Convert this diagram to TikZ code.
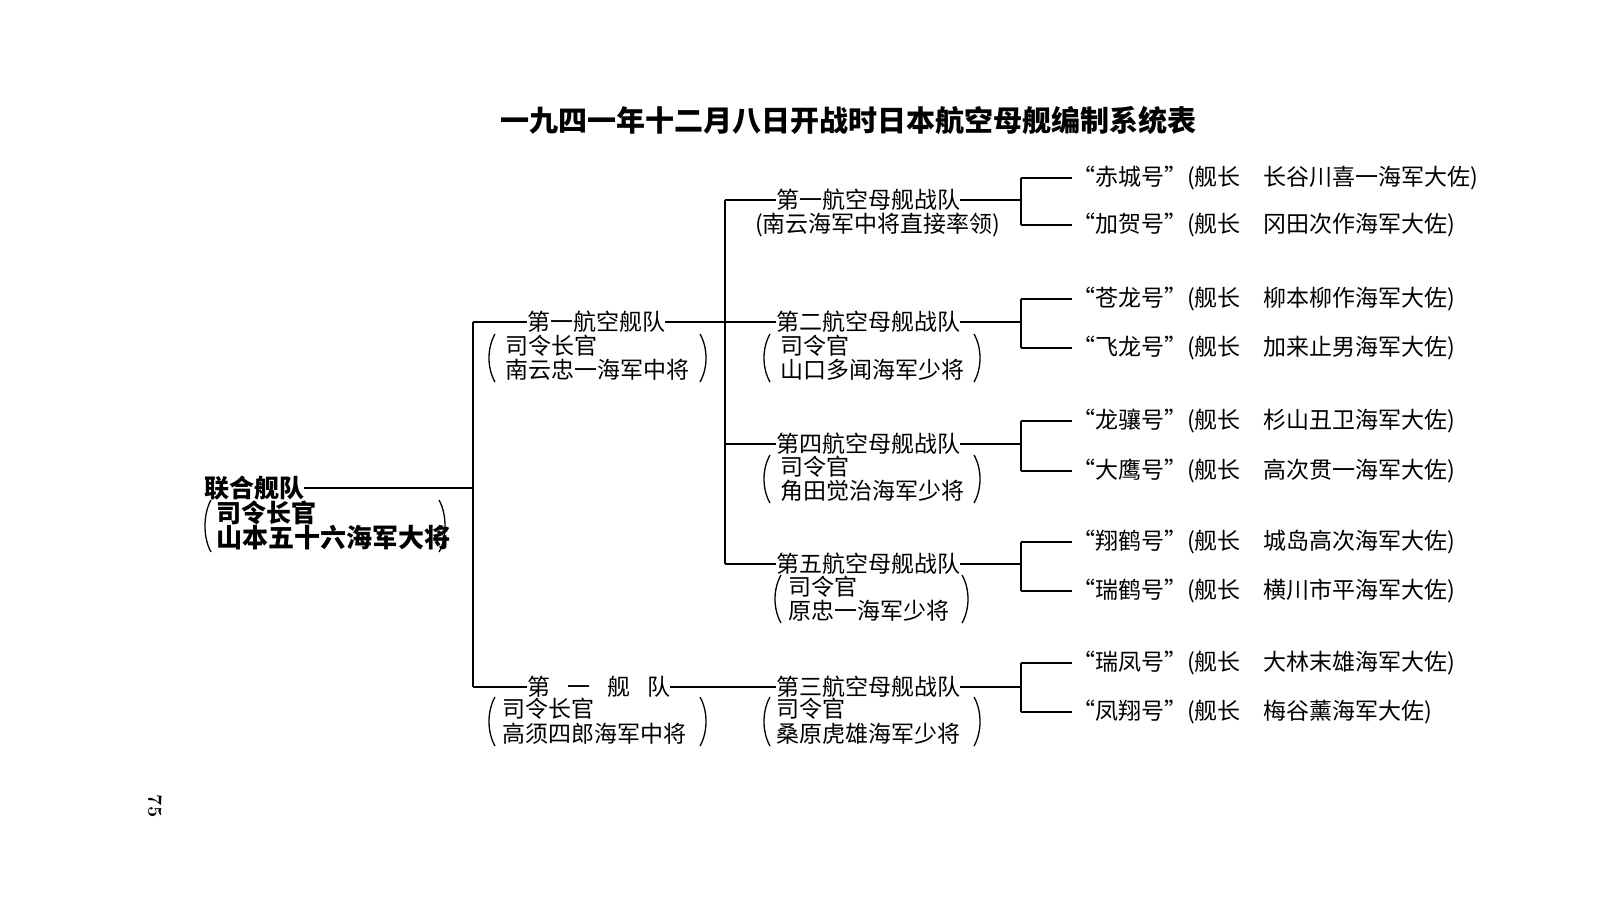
\documentclass[tikz,border=0pt]{standalone}
\usepackage{fontspec}
\newfontfamily\cjk{Noto Sans CJK SC}
\newcommand\lpar[3]{\draw[ln] (#1+5,#2) .. controls (#1-3,#2+14) and (#1-3,#3-14) .. (#1+5,#3);}
\newcommand\rpar[3]{\draw[ln] (#1-5,#2) .. controls (#1+3,#2+14) and (#1+3,#3-14) .. (#1-5,#3);}
\begin{document}
\begin{tikzpicture}[x=1pt,y=-1pt,
 t/.style={anchor=west,inner sep=0pt,font=\cjk\fontsize{23}{23}\selectfont},
 ln/.style={line width=1.3pt}]
\useasboundingbox (0,0) rectangle (1613,918);
\fill[white] (0,0) rectangle (1613,918);
\node[inner sep=0pt,font=\cjk\bfseries\fontsize{29}{29}\selectfont] (title) at (848,120) {一九四一年十二月八日开战时日本航空母舰编制系统表};
% root
\node[t,font=\cjk\bfseries\fontsize{25}{25}\selectfont] (r1) at (204,488) {联合舰队};
\node[t,font=\cjk\bfseries\fontsize{25}{25}\selectfont] (r2) at (216,513) {司令长官};
\node[t,font=\cjk\bfseries\fontsize{26}{26}\selectfont] (r3) at (216,538) {山本五十六海军大将};
\lpar{206}{500}{552}\rpar{444}{500}{552}
% level 1 vertical
\coordinate (v1t) at (473,322);
\coordinate (v1m) at (473,488);
\coordinate (v1b) at (473,687);
\draw[ln] (r1.east) -- (v1m);
\draw[ln] (v1t) -- (v1b);
% level 2
\node[t] (a1) at (527,322) {第一航空舰队};
\node[t] (a2) at (505,346) {司令长官};
\node[t] (a3) at (505,370) {南云忠一海军中将};
\lpar{490}{334}{382}\rpar{705}{334}{382}
\node[t] (b1) at (527,687) {第\hspace{17pt}一\hspace{17pt}舰\hspace{17pt}队};
\node[t] (b2) at (502,709) {司令长官};
\node[t] (b3) at (502,734) {高须四郎海军中将};
\lpar{490}{697}{746}\rpar{705}{697}{746}
\draw[ln] (v1t) -- (a1.west);
\draw[ln] (v1b) -- (b1.west);
% level 2 vertical
\coordinate (v2t) at (725,200);
\coordinate (v2a) at (725,322);
\coordinate (v2c) at (725,444);
\coordinate (v2b) at (725,564);
\draw[ln] (v2t) -- (v2b);
\draw[ln] (a1.east) -- (v2a);
% level 3
\node[t] (c1) at (776,200) {第一航空母舰战队};
\node[t] (c1b) at (755,225) {(南云海军中将直接率领)};
\node[t] (c2) at (776,322) {第二航空母舰战队};
\node[t] (c2b) at (780,346) {司令官};
\node[t] (c2c) at (780,370) {山口多闻海军少将};
\lpar{765}{334}{382}\rpar{979}{334}{382}
\node[t] (c4) at (776,444) {第四航空母舰战队};
\node[t] (c4b) at (780,467) {司令官};
\node[t] (c4c) at (780,491) {角田觉治海军少将};
\lpar{765}{455}{503}\rpar{979}{455}{503}
\node[t] (c5) at (776,564) {第五航空母舰战队};
\node[t] (c5b) at (788,587) {司令官};
\node[t] (c5c) at (788,611) {原忠一海军少将};
\lpar{776}{575}{623}\rpar{967}{575}{623}
\node[t] (c3) at (776,687) {第三航空母舰战队};
\node[t] (c3b) at (776,709) {司令官};
\node[t] (c3c) at (776,734) {桑原虎雄海军少将};
\lpar{765}{697}{746}\rpar{979}{697}{746}
\draw[ln] (v2t) -- (c1.west);
\draw[ln] (v2a) -- (c2.west);
\draw[ln] (v2c) -- (c4.west);
\draw[ln] (v2b) -- (c5.west);
\draw[ln] (b1.east) -- (c3.west);
% level 3 verticals and leaves
\foreach \n/\y/\ya/\yb/\la/\lb in {
 c1/200/178/225/{“赤城号”(舰长\hspace{1em}长谷川喜一海军大佐)}/{“加贺号”(舰长\hspace{1em}冈田次作海军大佐)},
 c2/322/299/348/{“苍龙号”(舰长\hspace{1em}柳本柳作海军大佐)}/{“飞龙号”(舰长\hspace{1em}加来止男海军大佐)},
 c4/444/421/471/{“龙骧号”(舰长\hspace{1em}杉山丑卫海军大佐)}/{“大鹰号”(舰长\hspace{1em}高次贯一海军大佐)},
 c5/564/542/591/{“翔鹤号”(舰长\hspace{1em}城岛高次海军大佐)}/{“瑞鹤号”(舰长\hspace{1em}横川市平海军大佐)},
 c3/687/663/712/{“瑞凤号”(舰长\hspace{1em}大林末雄海军大佐)}/{“凤翔号”(舰长\hspace{1em}梅谷薰海军大佐)}}{
 \coordinate (\n m) at (1021,\y);
 \coordinate (\n t) at (1021,\ya);
 \coordinate (\n u) at (1021,\yb);
 \node[t] (\n L1) at (1072,\ya) {\la};
 \node[t] (\n L2) at (1072,\yb) {\lb};
 \draw[ln] (\n.east) -- (\n m);
 \draw[ln] (\n t) -- (\n u);
 \draw[ln] (\n t) -- (\n L1.west);
 \draw[ln] (\n u) -- (\n L2.west);
}
\node[inner sep=0pt,rotate=-90,font=\bfseries\fontsize{20}{20}\selectfont] (pg) at (155,806) {75};
\end{tikzpicture}
\end{document}
